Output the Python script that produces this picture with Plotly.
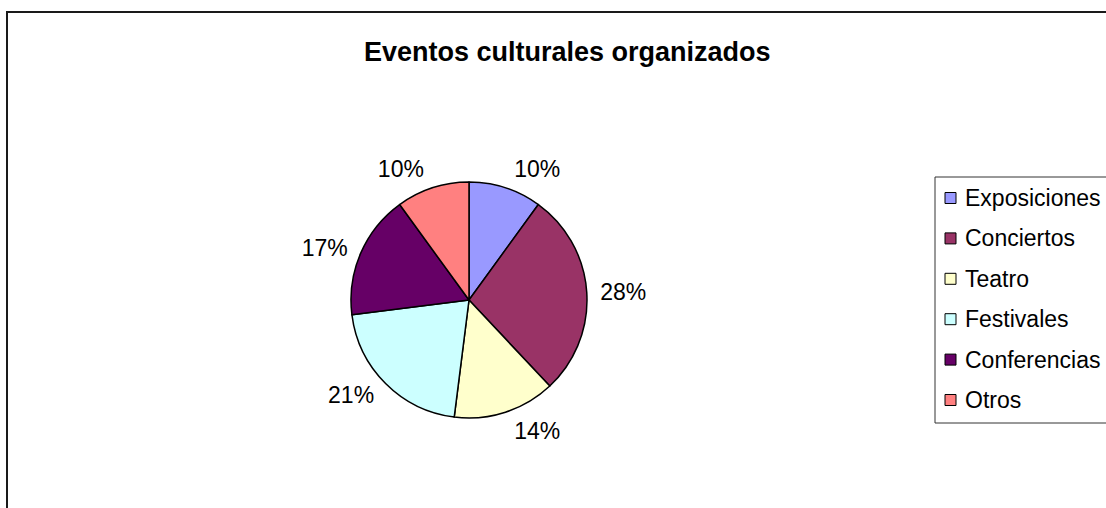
import plotly.graph_objects as go

W, H = 1106, 508

categories = ["Exposiciones", "Conciertos", "Teatro", "Festivales", "Conferencias", "Otros"]
values = [10, 28, 14, 21, 17, 10]
colors = ["#9999FF", "#993366", "#FFFFCC", "#CCFFFF", "#660066", "#FF8080"]
title_text = "Eventos culturales organizados"

def px(x):
    return x / W

def py(y):
    return 1 - y / H

cx, cy, r = 469, 300, 118
r_lab = 125  # invisible pie carrying the outside labels a bit farther out

fig = go.Figure()
fig.add_trace(go.Pie(
    labels=categories,
    values=values,
    marker=dict(colors=colors, line=dict(color="#000000", width=1.5)),
    sort=False,
    direction="clockwise",
    rotation=0,
    textinfo="none",
    showlegend=False,
    hoverinfo="label+percent",
    domain=dict(x=[px(cx - r), px(cx + r)], y=[py(cy + r), py(cy - r)]),
))
fig.add_trace(go.Pie(
    labels=categories,
    values=values,
    marker=dict(colors=["rgba(0,0,0,0)"] * len(values), line=dict(width=0)),
    sort=False,
    direction="clockwise",
    rotation=0,
    textinfo="percent",
    texttemplate="%{percent:.0%}",
    textposition="outside",
    outsidetextfont=dict(family="Arial, Liberation Sans", size=23, color="#000000"),
    showlegend=False,
    hoverinfo="skip",
    domain=dict(x=[px(cx - r_lab), px(cx + r_lab)], y=[py(cy + r_lab + 4), py(cy - r_lab - 4)]),
))

shapes = []
annotations = []

# outer chart border (extends beyond the window on right and bottom)
shapes.append(dict(type="rect", xref="paper", yref="paper",
                   x0=px(7), y0=py(H + 20), x1=px(W + 20), y1=py(12),
                   line=dict(color="#1a1a1a", width=2), fillcolor="rgba(0,0,0,0)"))

# legend box
shapes.append(dict(type="rect", xref="paper", yref="paper",
                   x0=px(935), y0=py(423), x1=px(W + 20), y1=py(177),
                   line=dict(color="#333333", width=1), fillcolor="rgba(0,0,0,0)"))

leg_top = 198
leg_step = 40.4
for i, (lab, col) in enumerate(zip(categories, colors)):
    yc = leg_top + i * leg_step
    shapes.append(dict(type="rect", xref="paper", yref="paper",
                       x0=px(945), x1=px(956), y0=py(yc + 5.5), y1=py(yc - 5.5),
                       line=dict(color="#000000", width=1), fillcolor=col))
    annotations.append(dict(text=lab, xref="paper", yref="paper",
                            x=px(963), y=py(yc), xanchor="left", yanchor="middle",
                            showarrow=False,
                            font=dict(family="Arial, Liberation Sans", size=23, color="#000000")))

annotations.append(dict(text="<b>" + title_text + "</b>", xref="paper", yref="paper",
                        x=px(567), y=py(52), xanchor="center", yanchor="middle",
                        showarrow=False,
                        font=dict(family="Arial, Liberation Sans", size=27, color="#000000")))

fig.update_layout(
    width=W, height=H,
    margin=dict(l=0, r=0, t=0, b=0),
    paper_bgcolor="#FFFFFF",
    plot_bgcolor="#FFFFFF",
    shapes=shapes,
    annotations=annotations,
)

fig.write_html("out.html")
